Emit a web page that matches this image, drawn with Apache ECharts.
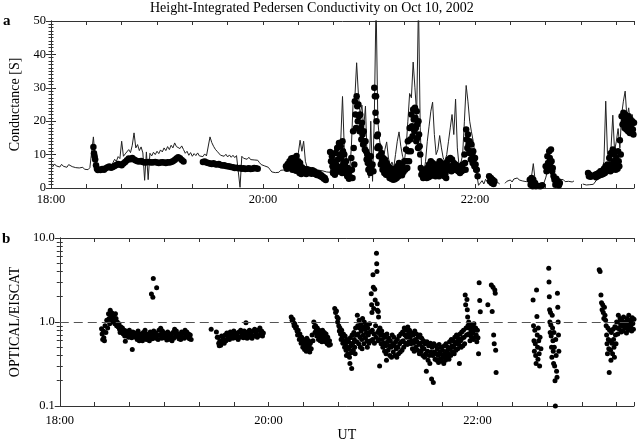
<!DOCTYPE html>
<html><head><meta charset="utf-8">
<script src="https://cdn.jsdelivr.net/npm/echarts@6/dist/echarts.min.js"></script>
<style>html,body{margin:0;padding:0;background:#fff}#c{width:638px;height:443px}</style>
</head><body><div id="c"></div>
<script>
// time axis: minutes since 18:00 UT
const xTickLabels = {0:'18:00', 120:'20:00', 240:'22:00'};
const yTicksA = [0, 10, 20, 30, 40, 50];
const yTicksB = ['0.1', '1.0', '10.0'];

// EISCAT conductance (thin line), one value per minute from 18:00; null = no data
const eiscatLine = [
7.0,6.4,7.2,6.6,6.9,6.3,7.1,6.5,6.8,6.2,
7.0,6.6,6.4,6.9,6.1,6.6,6.0,5.7,6.2,5.6,
5.9,5.5,6.1,5.8,15.3,9.0,4.6,5.4,5.0,5.6,
5.2,6.0,5.5,6.2,5.8,7.5,8.6,8.0,9.4,8.8,
14.0,9.5,10.2,9.8,11.5,10.6,12.8,16.5,12.0,13.0,
11.2,12.3,10.5,2.3,10.8,2.5,10.4,9.6,10.7,10.0,
11.0,10.3,11.4,10.8,12.0,11.2,12.4,11.5,12.8,12.0,
13.5,12.4,12.9,11.8,12.6,11.5,10.4,11.0,9.8,10.6,
9.5,10.3,9.7,10.5,9.6,10.1,9.4,10.2,9.6,10.0,
15.3,13.6,12.5,11.6,11.0,10.6,9.8,10.3,9.5,10.1,
9.3,9.9,9.2,9.8,9.1,9.7,9.3,0.2,9.5,8.9,
9.4,8.6,9.2,8.5,9.0,8.4,8.9,8.3,7.6,7.0,
7.4,6.6,6.9,6.2,5.5,4.8,5.3,4.6,5.1,4.7,
5.3,4.9,5.4,6.0,6.8,7.6,8.2,9.0,8.4,9.6,
10.5,14.3,11.0,14.0,8.0,6.2,5.6,6.3,5.5,6.0,
5.4,5.9,5.3,5.8,5.1,5.5,4.8,5.0,4.7,7.5,
10.5,12.0,13.8,12.5,14.0,27.4,12.0,9.8,6.5,4.8,
12.0,25.7,27.0,37.5,28.0,22.0,24.8,18.0,24.5,8.0,
3.0,20.0,2.0,21.0,56,20.0,14.3,10.5,8.0,11.5,
13.8,9.0,6.5,7.8,6.0,10.0,14.0,16.8,12.5,9.5,
8.0,12.0,20.0,28.3,27.0,37.7,30.0,22.0,56,18.0,
2.3,4.0,8.0,14.0,18.5,23.0,25.7,16.0,10.0,11.5,
15.7,12.0,9.0,8.0,10.0,14.0,18.0,22.0,16.0,26.6,
12.0,6.5,7.5,10.0,20.0,30.7,26.0,20.0,16.8,14.0,
10.0,4.0,0.8,1.5,2.2,1.2,2.6,1.8,2.8,1.6,
2.4,1.3,1.0,1.6,1.2,null,null,1.4,2.0,1.6,
2.4,1.8,2.7,2.2,3.0,2.4,2.9,2.1,2.6,1.9,
1.5,2.0,3.5,7.3,2.5,1.2,0.8,1.3,0.9,1.5,
3.0,5.0,6.5,4.0,2.0,1.6,2.4,2.0,2.6,2.2,
2.5,1.9,2.4,2.0,2.3,1.8,2.1,null,null,null,
null,1.2,1.6,0.9,1.4,1.0,0.7,1.1,1.6,2.5,
3.5,4.5,5.5,8.0,26.0,10.0,7.5,12.0,21.8,11.0,
14.0,17.8,12.0,22.0,26.0,29.0,21.0,24.0,19.0,22.0,18.5
];

// optical conductance (dots): [minute, samples within that minute]
const opticalDots = [
[24,[12.3,10.4,9.5]],[25,[8.5,6.8]],[26,[5.8,5.4]],[27,[5.5]],[28,[5.4]],[29,[5.7]],
[30,[5.5]],[31,[5.9]],[32,[6.2]],[33,[6.4]],[34,[6.1]],[35,[6.3]],[36,[6.6]],[37,[6.9]],
[38,[7.2]],[39,[7.0]],[40,[6.8]],[41,[7.3]],[42,[7.8]],[43,[8.3]],[44,[8.8]],[45,[8.6]],
[46,[9.0]],[47,[8.5]],[48,[8.2]],[49,[8.0]],[50,[7.9]],[51,[8.1]],[52,[7.8]],[53,[7.6]],
[54,[7.7]],[55,[7.8]],[56,[7.7]],[57,[7.6]],[58,[7.7]],[59,[7.8]],[60,[7.6]],[61,[7.5]],
[62,[7.6]],[63,[7.7]],[64,[7.6]],[65,[7.5]],[66,[7.7]],[67,[7.6]],[68,[7.8]],[69,[8.0]],
[70,[8.4]],[71,[8.8]],[72,[9.2]],[73,[8.9]],[74,[8.4]],[75,[7.9]],
[86,[7.8]],[87,[7.9]],[88,[7.6]],[89,[7.5]],[90,[7.3]],[91,[7.2]],[92,[7.4]],[93,[7.1]],
[94,[7.0]],[95,[7.2]],[96,[6.9]],[97,[6.7]],[98,[6.8]],[99,[6.6]],[100,[6.5]],[101,[6.4]],
[102,[6.3]],[103,[6.2]],[104,[6.0]],[105,[6.1]],[106,[5.9]],[107,[6.0]],[108,[5.8]],
[109,[5.9]],[110,[5.7]],[111,[5.8]],[112,[5.9]],[113,[5.7]],[114,[5.8]],[115,[6.0]],
[116,[5.9]],[117,[5.8]],
[133,[6.5,5.8]],[134,[7.2,6.0]],[135,[8.0,6.5]],[136,[8.8,7.0,5.5]],[137,[9.0,7.5,6.0]],
[138,[8.5,6.8,5.2]],[139,[9.6,7.0,5.5]],[140,[8.0,6.0,4.5]],[141,[7.5,5.5,4.2]],
[142,[6.2,4.8]],[143,[5.8,4.5]],[144,[5.2,4.2]],[145,[5.6,4.8]],[146,[5.4,4.5]],
[147,[5.0,4.3]],[148,[5.3,4.6]],[149,[5.0,4.2]],[150,[4.6,3.9]],[151,[4.5,3.8]],
[152,[4.2,3.5]],[153,[3.8,3.2]],[154,[3.4,2.8]],[155,[3.0,2.4]],
[158,[10.8,8.0]],[159,[9.5,6.5,4.5]],[160,[8.0,5.5,4.0]],[161,[10.5,7.0,4.8]],
[162,[12.0,8.5,5.5]],[163,[13.5,10.0,6.0]],[164,[12.5,9.0,6.5,4.5]],[165,[14.0,11.0,7.5,5.0]],
[166,[10.0,7.0,4.5]],[167,[8.0,5.5,3.5]],[168,[6.0,4.0,2.8]],[169,[5.0,3.2]],
[170,[9.0,5.5,3.0]],[171,[17.0,12.0,7.0]],[172,[26.0,22.0,18.0]],[173,[27.5,24.5,20.0]],
[174,[25.0,21.5,17.0]],[175,[22.0,18.0,14.5]],[176,[19.5,16.0,13.0]],[177,[17.0,14.0,11.5]],
[178,[14.0,11.0,8.5]],[179,[10.0,7.5,5.5]],[180,[8.0,6.0,4.5]],[181,[9.5,6.5]],
[182,[7.0,5.0]],[183,[30.0,27.5,22.5]],[184,[27.5,20.0,15.5,12.0]],[185,[16.0,12.5,9.5]],
[186,[12.0,9.5,7.0]],[187,[10.5,8.0,5.5]],[188,[9.0,6.5,4.5]],[189,[8.5,6.0,4.0]],
[190,[7.5,5.5,3.8]],[191,[6.5,4.5,3.0]],[192,[6.0,4.0,2.8]],[193,[5.5,3.5,2.5]],
[194,[5.2,3.8,2.6]],[195,[5.8,4.2,3.0]],[196,[6.5,5.0,3.5]],[197,[7.5,5.5,4.0]],
[198,[7.0,5.0,3.8]],[199,[6.5,4.8]],[200,[8.0,5.5]],[201,[11.5,8.0,6.0]],
[202,[14.0,11.0,8.0]],[203,[18.0,14.5,11.0]],[204,[22.0,18.5,15.5]],[205,[23.5,20.5,17.0]],
[206,[24.0,21.0,18.0,14.0]],[207,[23.0,19.0,15.0,12.0]],[208,[20.0,16.0,12.5]],
[209,[10.0,6.0,4.0]],[210,[5.5,4.0,3.0]],[211,[5.0,3.5]],[212,[5.5,4.0,3.0]],
[213,[6.0,4.5,3.2]],[214,[7.0,5.0,3.5]],[215,[8.0,5.5,4.0]],[216,[7.5,5.0,3.8]],
[217,[6.5,4.5,3.5]],[218,[7.0,5.0,3.8]],[219,[6.5,4.8,3.5]],[220,[8.0,6.0,4.0]],
[221,[7.5,5.5,4.2]],[222,[6.5,5.0,3.5]],[223,[6.0,4.5,3.0]],[224,[7.5,5.5]],
[225,[8.5,6.0]],[226,[9.0,6.5,5.0]],[227,[8.5,6.0]],[228,[7.5,5.5]],[229,[7.0,5.5]],
[230,[6.5,5.0]],[231,[6.0,4.5]],[232,[6.5,5.0]],[233,[7.0,5.5]],[234,[10.0,7.5,5.5]],
[235,[17.5,14.5,12.0]],[236,[16.0,13.0,10.5]],[237,[14.0,11.0,8.5]],[238,[13.0,10.0,7.5]],
[239,[11.0,8.5,6.5]],[240,[9.0,7.0,5.5]],[241,[5.5,3.5]],
[248,[3.5,2.0]],[249,[3.0,1.5]],[250,[2.5,1.2]],[251,[2.0]],
[271,[2.5,1.0]],[272,[3.0,1.5,0.5]],[273,[2.5,1.0]],[274,[1.5,0.5]],
[276,[0.6]],[277,[0.5]],[278,[0.8]],
[280,[6.5,5.0]],[281,[9.5,7.5,5.5]],[282,[11.0,9.0,6.5]],[283,[11.5,8.0,5.0]],[284,[6.0,3.5]],
[285,[2.5,1.0]],[286,[2.8,1.2]],[287,[2.0,0.8]],[288,[1.5]],
[304,[4.5,3.5]],[305,[4.0,3.4]],
[308,[4.0,3.2]],[309,[4.2,3.5]],[310,[4.5,3.8]],[311,[5.0,4.0]],[312,[5.2,4.2]],
[313,[5.8,4.5]],[314,[6.5,5.0]],[315,[7.0,5.2]],[316,[9.0,6.5,5.0]],[317,[10.5,7.0,5.5]],
[318,[11.5,8.0,6.0]],[319,[10.0,7.5,5.5]],[320,[9.0,7.0,5.8]],[321,[11.0,8.0,6.5]],
[322,[14.3,10.0]],[323,[21.5,19.0]],[324,[22.5,20.0,18.0]],[325,[22.0,19.5,17.5]],
[326,[21.0,19.0,17.0]],[327,[21.5,18.5,16.5]],[328,[20.5,18.0,16.5]],[329,[20.0,17.5,16.0]],
[330,[19.5,17.0]]
];

// OPTICAL/EISCAT ratio: [minute, samples within that minute]
const ratioDots = [
[24,[0.83,0.72,0.62]],[25,[0.78,0.65,0.6]],[26,[0.9,0.75]],[27,[1.05,0.85]],
[28,[1.25,1.1,0.95]],[29,[1.38,1.2,1.05]],[30,[1.28,1.15,1.0]],[31,[1.2,1.05,0.95]],
[32,[1.25,1.1,0.9]],[33,[1.0,0.88]],[34,[0.95,0.82,0.75]],[35,[0.88,0.78]],
[36,[0.85,0.72]],[37,[0.8,0.68,0.59]],[38,[0.78,0.7]],[39,[0.75,0.66]],[40,[0.8,0.7]],
[41,[0.72,0.65,0.47]],[42,[0.76,0.68]],[43,[0.74,0.66]],[44,[0.7,0.62]],
[45,[0.78,0.67,0.6]],[46,[0.72,0.65]],[47,[0.68,0.6]],[48,[0.75,0.66]],
[49,[0.8,0.7,0.62]],[50,[0.72,0.64]],[51,[0.7,0.6]],[52,[0.76,0.66,2.15]],
[53,[0.72,0.63,1.97,3.3]],[54,[0.78,0.68]],[55,[0.74,0.64,2.56]],[56,[0.7,0.62]],
[57,[0.8,0.69]],[58,[0.84,0.72,0.64]],[59,[0.78,0.68]],[60,[0.74,0.65]],[61,[0.7,0.61]],
[62,[0.76,0.66]],[63,[0.72,0.62]],[64,[0.68,0.6]],[65,[0.75,0.64]],[66,[0.82,0.7]],
[67,[0.78,0.67]],[68,[0.72,0.63]],[69,[0.7,0.62]],[70,[0.76,0.66]],[71,[0.74,0.64]],
[72,[0.8,0.68]],[73,[0.76,0.66]],[74,[0.72,0.63]],[75,[0.7,0.62]],
[87,[0.82]],[90,[0.76,0.66]],[91,[0.66,0.56,0.52]],[92,[0.6,0.53]],[93,[0.68,0.58]],
[94,[0.64,0.56]],[95,[0.7,0.6]],[96,[0.74,0.63]],[97,[0.7,0.62]],[98,[0.76,0.66]],
[99,[0.72,0.64]],[100,[0.78,0.67]],[101,[0.74,0.65]],[102,[0.7,0.62]],[103,[0.76,0.66]],
[104,[0.8,0.68]],[105,[0.74,0.65]],[106,[0.78,0.68]],[107,[0.98,0.72,0.64]],
[108,[0.76,0.66]],[109,[0.8,0.7]],[110,[0.74,0.64]],[111,[0.78,0.68]],[112,[0.82,0.7]],
[113,[0.76,0.66]],[114,[0.8,0.69]],[115,[0.85,0.72]],[116,[0.78,0.68]],[117,[0.74]],
[133,[1.15,1.05]],[134,[1.08,0.98,0.9]],[135,[0.95,0.85]],[136,[0.88,0.78,0.7]],
[137,[0.8,0.7,0.62]],[138,[0.72,0.64,0.56]],[139,[0.66,0.58,0.5]],[140,[0.62,0.54,0.47]],
[141,[0.58,0.5,0.45]],[142,[0.64,0.55,0.46]],[143,[0.6,0.52,0.44]],[144,[0.56,0.48]],
[145,[0.7,0.6]],[146,[1.0,0.88,0.75]],[147,[0.9,0.8,0.68]],[148,[0.85,0.72,0.62]],
[149,[0.8,0.7,0.6]],[150,[0.76,0.66,0.58]],[151,[0.8,0.7,0.6]],[152,[0.75,0.65,0.58]],
[153,[0.72,0.62,0.55]],[154,[0.66,0.58,0.53]],[155,[0.6,0.54]],
[158,[1.45,1.3]],[159,[1.35,1.15,1.0]],[160,[1.1,0.9,0.78]],[161,[0.85,0.72,0.62]],
[162,[0.8,0.66,0.56]],[163,[0.72,0.6,0.5]],[164,[0.68,0.55,0.46,0.4]],[165,[0.62,0.5,0.42]],
[166,[0.58,0.48,0.38,0.32]],[167,[0.65,0.52,0.43,0.28]],[168,[0.7,0.56,0.46]],
[169,[0.75,0.62,0.5,0.42]],[170,[0.85,0.7,0.58]],[171,[1.2,0.9,0.72,0.55]],
[172,[1.05,0.85,0.66,0.5]],[173,[0.95,0.78,0.62,0.48]],[174,[1.1,0.88,0.7,0.55]],
[175,[1.0,0.82,0.65]],[176,[0.92,0.75,0.6,0.5]],[177,[0.85,0.7,0.56]],[178,[0.95,0.76,0.6]],
[179,[2.17,1.6,1.3,0.8,0.62]],[180,[3.66,2.6,1.45,0.72,0.56]],[181,[2.45,1.83,0.9,0.66]],
[182,[6.6,4.95,4.0,1.65,1.38,0.75,0.6]],[183,[1.33,1.15,0.8,0.62,0.3]],[184,[0.85,0.7,0.55]],
[185,[0.78,0.62,0.5]],[186,[0.7,0.56,0.45]],[187,[0.66,0.52,0.42,0.35]],[188,[0.72,0.58,0.46]],
[189,[0.64,0.52,0.4]],[190,[0.6,0.5,0.38]],[191,[0.7,0.55,0.44]],[192,[0.66,0.52,0.4]],
[193,[0.58,0.48,0.38]],[194,[0.62,0.5,0.42]],[195,[0.68,0.55,0.44]],[196,[0.72,0.58,0.46]],
[197,[0.76,0.6,0.5]],[198,[0.85,0.7,0.56]],[199,[0.8,0.66,0.54]],[200,[0.87,0.72,0.58]],
[201,[0.8,0.66,0.55]],[202,[0.74,0.6,0.48]],[203,[0.7,0.56,0.45]],[204,[0.78,0.62,0.5]],
[205,[0.72,0.58,0.46]],[206,[0.66,0.54,0.42]],[207,[0.7,0.56,0.45]],[208,[0.64,0.5,0.4]],
[209,[0.6,0.48,0.38]],[210,[0.55,0.42,0.26]],[211,[0.58,0.45,0.35]],[212,[0.52,0.4,0.32]],
[213,[0.56,0.44,0.21]],[214,[0.5,0.4,0.19]],[215,[0.55,0.44,0.36]],[216,[0.52,0.42,0.35]],
[217,[0.48,0.4,0.33]],[218,[0.54,0.44,0.36]],[219,[0.5,0.41,0.34]],[220,[0.46,0.38,0.32]],
[221,[0.52,0.42,0.35]],[222,[0.55,0.45,0.38]],[223,[0.5,0.42,0.36]],[224,[0.58,0.47,0.4]],
[225,[0.62,0.52,0.44]],[226,[0.6,0.5,0.42]],[227,[0.66,0.55,0.46]],[228,[0.7,0.58,0.48]],
[229,[0.64,0.54,0.32]],[230,[0.72,0.6,0.5]],[231,[0.76,0.64,0.52]],[232,[0.8,0.66,0.55]],
[233,[2.1,1.6,0.85,0.7]],[234,[1.85,1.4,1.15,0.9,0.72]],[235,[1.0,0.85,0.7,0.6]],
[236,[0.92,0.78,0.66]],[237,[0.88,0.74,0.62]],[238,[0.95,0.8,0.66]],[239,[0.85,0.7,0.58]],
[240,[0.8,0.65,0.42]],[241,[2.94,1.8,1.32]],[246,[1.6]],
[248,[2.75,1.33]],[249,[2.6,0.7,0.55]],[250,[2.4,2.2,0.46,0.25]],
[272,[1.83,0.9,0.6,0.45]],[273,[0.8,0.55,0.4,0.32]],[274,[2.4,1.16,0.7,0.5,0.36]],
[275,[0.85,0.6,0.42,0.3]],[276,[0.66,0.48]],
[281,[4.35,3.0,2.0,1.4,1.0,0.75]],[282,[1.3,0.92,0.68,0.5,0.38]],[283,[1.2,0.85,0.6,0.45,0.32]],
[284,[0.75,0.5,0.3,0.2,0.1]],[285,[0.62,0.4,0.26,0.22]],[286,[2.2,1.5,1.0,0.7,0.45]],
[310,[4.2,4.0]],[311,[2.1,1.7,1.4]],[312,[1.6,1.3,1.1]],[313,[1.5,1.2,1.05]],
[314,[0.9,0.7,0.55,0.42]],[315,[0.85,0.62,0.48,0.25]],[316,[0.8,0.6,0.46,0.35]],
[317,[0.75,0.56,0.42]],[318,[0.82,0.62,0.5,0.38]],[319,[0.88,0.7,0.55]],
[320,[1.0,0.85,0.72]],[321,[1.2,1.0,0.82]],[322,[1.1,0.92,0.76]],[323,[1.05,0.9,0.78]],
[324,[1.15,0.98,0.84]],[325,[1.0,0.88,0.74]],[326,[1.1,0.95,0.8]],[327,[1.2,1.02,0.86]],
[328,[1.05,0.92,0.78]],[329,[1.12,0.96,0.82]],[330,[1.08,0.92]]
];

const FONT = 'Liberation Serif';
function expand(rows) {
  const out = [];
  rows.forEach(([m, vals]) => vals.forEach((v, k) => out.push([m + k / vals.length, v])));
  return out;
}
const lineData = eiscatLine.map((v, i) => [i, v == null ? '-' : v]);

function xAxis(grid, pos, showLabel, margin, name) {
  return {
    type: 'value', gridIndex: grid, position: pos, min: 0, max: 330, interval: 20,
    name: name || '', nameLocation: 'middle', nameGap: 22,
    nameTextStyle: {fontFamily: FONT, fontSize: 14, color: '#000'},
    axisLine: {show: true, onZero: false, lineStyle: {color: '#333', width: 1}},
    axisTick: {show: true, inside: true, length: 4, lineStyle: {color: '#333'}},
    axisLabel: {show: showLabel, margin: margin, fontFamily: FONT, fontSize: 12.5, color: '#000',
      formatter: v => xTickLabels[v] || ''},
    splitLine: {show: false}
  };
}
function yAxisA(pos, showLabel) {
  return {
    type: 'value', gridIndex: 0, position: pos, min: yTicksA[0], max: yTicksA[yTicksA.length - 1], interval: 10,
    name: showLabel ? 'Conductance [S]' : '', nameLocation: 'middle', nameGap: 29,
    nameTextStyle: {fontFamily: FONT, fontSize: 14, color: '#000'},
    axisLine: {show: true, lineStyle: {color: '#333', width: 1}},
    axisTick: {show: true, inside: true, length: 5, lineStyle: {color: '#333'}},
    minorTick: {show: true, splitNumber: 10, length: 2.5, lineStyle: {color: '#333'}},
    axisLabel: {show: showLabel, margin: 5, fontFamily: FONT, fontSize: 12.5, color: '#000'},
    splitLine: {show: false}
  };
}
function yAxisB(pos, showLabel) {
  return {
    type: 'log', logBase: 10, gridIndex: 1, position: pos, min: Number(yTicksB[0]), max: Number(yTicksB[2]),
    name: showLabel ? 'OPTICAL/EISCAT' : '', nameLocation: 'middle', nameGap: 29,
    nameTextStyle: {fontFamily: FONT, fontSize: 14, color: '#000'},
    axisLine: {show: true, lineStyle: {color: '#333', width: 1}},
    axisTick: {show: true, inside: true, length: 5, lineStyle: {color: '#333'}},
    minorTick: {show: true, splitNumber: 9, length: 3, lineStyle: {color: '#333'}},
    axisLabel: {show: showLabel, margin: 5, fontFamily: FONT, fontSize: 12.5, color: '#000',
      formatter: v => Number(v).toFixed(1)},
    splitLine: {show: false}
  };
}

const chart = echarts.init(document.getElementById('c'), null, {renderer: 'canvas'});
chart.setOption({
  animation: false,
  backgroundColor: '#fff',
  title: [
    {text: 'Height-Integrated Pedersen Conductivity on Oct 10, 2002', left: 150, top: 1, padding: 0,
     textStyle: {fontFamily: FONT, fontSize: 14, fontWeight: 'normal', color: '#000'}},
    {text: 'a', left: 3, top: 14, padding: 0, textStyle: {fontFamily: FONT, fontSize: 15, fontWeight: 'bold', color: '#000'}},
    {text: 'b', left: 2, top: 232, padding: 0, textStyle: {fontFamily: FONT, fontSize: 15, fontWeight: 'bold', color: '#000'}}
  ],
  grid: [
    {left: 43, top: 21, width: 591, height: 167},
    {left: 43, top: 238, width: 591, height: 168}
  ],
  xAxis: [
    xAxis(0, 'bottom', true, 5),
    xAxis(0, 'top', false, 5),
    xAxis(1, 'bottom', true, 8, 'UT'),
    xAxis(1, 'top', false, 5)
  ],
  yAxis: [yAxisA('left', true), yAxisA('right', false), yAxisB('left', true), yAxisB('right', false)],
  series: [
    {type: 'line', xAxisIndex: 0, yAxisIndex: 0, data: lineData, symbol: 'none', showSymbol: false,
     connectNulls: false, lineStyle: {width: 1, color: '#222'}, z: 2},
    {type: 'scatter', xAxisIndex: 0, yAxisIndex: 0, data: expand(opticalDots), symbolSize: 6.5,
     itemStyle: {color: '#000', opacity: 1, borderWidth: 0}, z: 3},
    {type: 'scatter', xAxisIndex: 2, yAxisIndex: 2, data: expand(ratioDots), symbolSize: 5,
     itemStyle: {color: '#000', opacity: 1, borderWidth: 0}, z: 3,
     markLine: {silent: true, symbol: ['none', 'none'], label: {show: false},
       lineStyle: {color: '#555', type: [9, 5], width: 1}, data: [{yAxis: 1}]}}
  ]
});
</script></body></html>
